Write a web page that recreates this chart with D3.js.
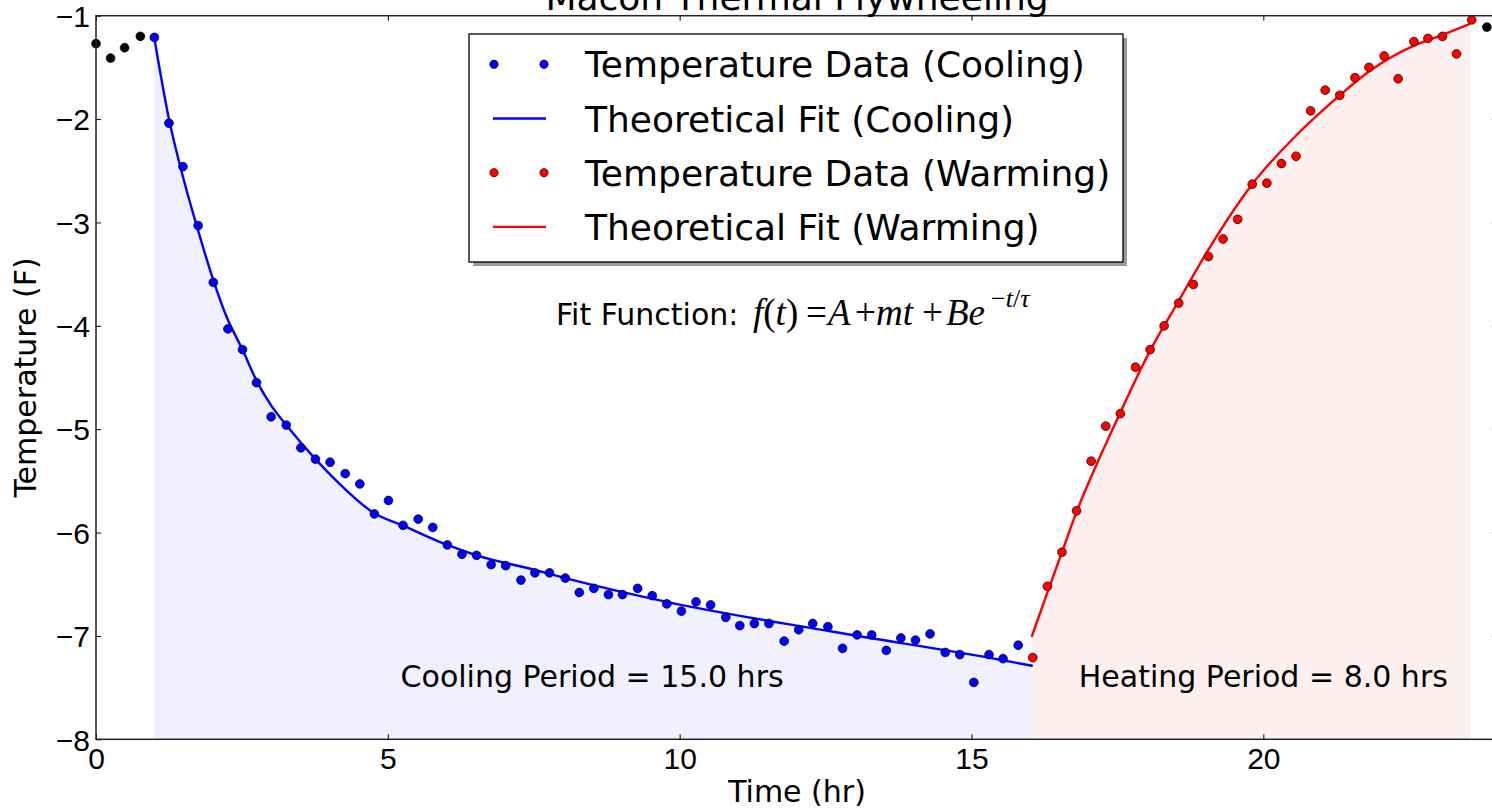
<!DOCTYPE html>
<html>
<head>
<meta charset="utf-8">
<title>Macon Thermal Flywheeling</title>
<script src="https://d3js.org/d3.v7.min.js"></script>
<style>
  body {
    margin: 0;
    background: #fff;
  }

  svg {
    display: block;
    font-family: "DejaVu Sans", sans-serif;
  }

  .axis .domain {
    display: none;
  }

  .axis .tick line {
    stroke: #000;
    stroke-width: 1;
  }
</style>
</head>

<body>
<div id="graphArea"></div>
<script>
  // readings taken off the plot (time in hr, temperature in F)
  var idleTime = [0.00, 0.25, 0.49, 0.76, 23.83];
  var idleTemp = [-1.27, -1.41, -1.31, -1.20, -1.11];

  var coolTime = [1.00, 1.25, 1.49, 1.75, 2.01, 2.26, 2.51, 2.75, 3.00, 3.26,
    3.51, 3.76, 4.01, 4.27, 4.52, 4.77, 5.01, 5.26, 5.52, 5.77,
    6.02, 6.27, 6.52, 6.77, 7.02, 7.28, 7.52, 7.77, 8.04, 8.28,
    8.53, 8.78, 9.02, 9.28, 9.53, 9.78, 10.03, 10.28, 10.53, 10.79,
    11.03, 11.28, 11.53, 11.79, 12.04, 12.28, 12.54, 12.79, 13.04, 13.29,
    13.54, 13.79, 14.04, 14.29, 14.55, 14.80, 15.04, 15.30, 15.54, 15.80];
  var coolTemp = [-1.21, -2.04, -2.46, -3.03, -3.58, -4.03, -4.23, -4.55, -4.88, -4.96,
    -5.18, -5.29, -5.32, -5.43, -5.53, -5.82, -5.69, -5.93, -5.87, -5.95,
    -6.12, -6.21, -6.22, -6.31, -6.32, -6.46, -6.39, -6.39, -6.44, -6.58,
    -6.54, -6.60, -6.60, -6.54, -6.61, -6.69, -6.76, -6.67, -6.70, -6.82,
    -6.90, -6.88, -6.88, -7.05, -6.94, -6.88, -6.91, -7.12, -6.99, -6.99,
    -7.14, -7.02, -7.04, -6.98, -7.16, -7.18, -7.45, -7.18, -7.22, -7.09];

  var warmTime = [16.05, 16.30, 16.55, 16.80, 17.05, 17.30, 17.55, 17.81, 18.06, 18.30,
    18.55, 18.80, 19.06, 19.31, 19.56, 19.81, 20.06, 20.31, 20.56, 20.81,
    21.06, 21.31, 21.57, 21.81, 22.07, 22.31, 22.58, 22.82, 23.07, 23.31, 23.57];
  var warmTemp = [-7.21, -6.52, -6.19, -5.79, -5.31, -4.97, -4.85, -4.40, -4.23, -4.00,
    -3.78, -3.60, -3.33, -3.16, -2.97, -2.63, -2.62, -2.43, -2.36, -1.92,
    -1.72, -1.77, -1.60, -1.50, -1.39, -1.61, -1.25, -1.22, -1.20, -1.37, -1.04];

  // points
  var coolFitTime = [1.00, 1.25, 1.50, 1.75, 2.00, 2.25, 2.51, 2.75, 3.00, 3.26,
    3.76, 4.12, 4.76, 5.25, 6.02, 6.52, 7.44, 8.04, 9.78, 12.63, 15.49, 16.05];
  var coolFitTemp = [-1.22, -2.00, -2.58, -3.08, -3.54, -3.93, -4.23, -4.53, -4.77, -4.96,
    -5.29, -5.50, -5.81, -5.93, -6.12, -6.22, -6.35, -6.44, -6.67, -6.96, -7.23, -7.29];

  var warmFitTime = [16.03, 16.30, 16.55, 16.80, 17.20, 17.54, 18.06, 18.55, 19.03, 19.81,
    20.63, 21.31, 21.81, 22.58, 23.07, 23.54];
  var warmFitTemp = [-7.01, -6.58, -6.19, -5.80, -5.27, -4.85, -4.24, -3.76, -3.29, -2.63,
    -2.12, -1.77, -1.54, -1.29, -1.185, -1.08];

  var xTicks = [0, 5, 10, 15, 20];
  var yTicks = [-8, -7, -6, -5, -4, -3, -2, -1];

  var legendLabels = ["Temperature Data (Cooling)", "Theoretical Fit (Cooling)",
    "Temperature Data (Warming)", "Theoretical Fit (Warming)"];

  function zipPts(ts, vs) {
    return ts.map(function(t, i) {
      return { t: t, v: vs[i] };
    });
  }

  var W = 1492,
    H = 811;
  var margin = { top: 15.7, left: 96 };
  var width = 1400.8,
    height = 723.6;

  var svg = d3.select("#graphArea").append("svg")
    .attr("width", W)
    .attr("height", H);

  var g = svg.append("g")
    .attr("transform", "translate(" + margin.left + "," + margin.top + ")");

  var x = d3.scaleLinear().domain([0, 24]).range([0, width]);
  var y = d3.scaleLinear().domain([-8, -1]).range([height, 0]);

  var area = d3.area()
    .x(function(d) { return x(d.t); })
    .y0(y(-8))
    .y1(function(d) { return y(d.v); })
    .curve(d3.curveMonotoneX);

  var line = d3.line()
    .x(function(d) { return x(d.t); })
    .y(function(d) { return y(d.v); })
    .curve(d3.curveMonotoneX);

  var coolFit = zipPts(coolFitTime, coolFitTemp);
  var warmFit = zipPts(warmFitTime, warmFitTemp);

  // shaded periods under the fits
  g.append("path").datum(coolFit)
    .attr("d", area)
    .attr("fill", "rgb(240,240,255)");
  g.append("path").datum(warmFit)
    .attr("d", area)
    .attr("fill", "rgb(255,240,240)");

  // axes, ticks pointing inwards on all four sides
  var intFmt = d3.format("d");
  g.append("g")
    .attr("class", "x axis")
    .attr("transform", "translate(0," + height + ")")
    .call(d3.axisBottom(x).tickValues(xTicks).tickFormat(intFmt).tickSizeInner(-5).tickSizeOuter(0).tickPadding(8))
    .call(function(a) {
      a.selectAll("text").style("font-size", "30px").attr("fill", "#000");
    });
  g.append("g")
    .attr("class", "x axis")
    .call(d3.axisTop(x).tickValues(xTicks).tickSizeInner(-5).tickSizeOuter(0).tickFormat(""));
  g.append("g")
    .attr("class", "y axis")
    .call(d3.axisLeft(y).tickValues(yTicks).tickFormat(intFmt).tickSizeInner(-5).tickSizeOuter(0).tickPadding(6))
    .call(function(a) {
      a.selectAll("text").style("font-size", "30px").attr("dy", "0.36em").attr("fill", "#000");
    });
  g.append("g")
    .attr("class", "y axis")
    .attr("transform", "translate(" + width + ",0)")
    .call(d3.axisRight(y).tickValues(yTicks).tickSizeInner(-5).tickSizeOuter(0).tickFormat(""));

  // fit curves
  g.append("path").datum(coolFit)
    .attr("d", line)
    .attr("fill", "none")
    .attr("stroke", "#0000ff")
    .attr("stroke-width", 2.4);
  g.append("path").datum(warmFit)
    .attr("d", line)
    .attr("fill", "none")
    .attr("stroke", "#ff0000")
    .attr("stroke-width", 2.4);

  // data points
  function drawDots(ts, vs, color) {
    g.append("g").selectAll("circle")
      .data(zipPts(ts, vs))
      .enter()
      .append("circle")
      .attr("cx", function(d) { return x(d.t); })
      .attr("cy", function(d) { return y(d.v); })
      .attr("r", 4.4)
      .attr("fill", color)
      .attr("stroke", "#000")
      .attr("stroke-width", 0.7);
  }
  drawDots(idleTime, idleTemp, "#000");
  drawDots(coolTime, coolTemp, "#0000ff");
  drawDots(warmTime, warmTemp, "#ff0000");

  // frame
  g.append("rect")
    .attr("width", width)
    .attr("height", height)
    .attr("fill", "none")
    .attr("stroke", "#222")
    .attr("stroke-width", 1.5);

  // period annotations
  g.append("text")
    .attr("x", x(8.5))
    .attr("y", y(-7.49))
    .attr("text-anchor", "middle")
    .style("font-size", "30px")
    .text("Cooling Period = 15.0 hrs");
  g.append("text")
    .attr("x", x(20))
    .attr("y", y(-7.49))
    .attr("text-anchor", "middle")
    .style("font-size", "30px")
    .text("Heating Period = 8.0 hrs");

  // fit function label
  svg.append("text")
    .attr("x", 556)
    .attr("y", 325)
    .style("font-size", "30px")
    .text("Fit Function:");

  var math = svg.append("text")
    .attr("y", 325)
    .style("font-family", "'Liberation Serif', 'DejaVu Serif', serif")
    .style("font-size", "37px");
  var pieces = [
    { s: "f", it: true, x: 753 }, { s: "(", it: false }, { s: "t", it: true }, { s: ")", it: false },
    { s: "=", it: false, x: 806 }, { s: "A", it: true, x: 828 }, { s: "+", it: false, x: 855 },
    { s: "mt", it: true, x: 876 }, { s: "+", it: false, x: 922 }, { s: "Be", it: true, x: 946 }
  ];
  pieces.forEach(function(p) {
    var ts = math.append("tspan").text(p.s)
      .style("font-style", p.it ? "italic" : "normal");
    if (p.x !== undefined) ts.attr("x", p.x);
  });
  var sup = svg.append("text")
    .attr("x", 991)
    .attr("y", 307)
    .style("font-family", "'Liberation Serif', 'DejaVu Serif', serif")
    .style("font-size", "26px");
  sup.append("tspan").text("\u2212");
  sup.append("tspan").text("t").style("font-style", "italic");
  sup.append("tspan").text("/");
  sup.append("tspan").text("\u03c4").style("font-style", "italic");

  // title, its upper part falls outside the picture as in the source
  svg.append("text")
    .attr("x", 797)
    .attr("y", 10)
    .attr("text-anchor", "middle")
    .style("font-size", "36px")
    .text("Macon Thermal Flywheeling");

  // axis labels
  svg.append("text")
    .attr("x", 797)
    .attr("y", 802)
    .attr("text-anchor", "middle")
    .style("font-size", "30px")
    .text("Time (hr)");
  svg.append("text")
    .attr("transform", "translate(36," + (margin.top + height / 2) + ") rotate(-90)")
    .attr("text-anchor", "middle")
    .style("font-size", "30px")
    .text("Temperature (F)");

  // legend with drop shadow
  var lg = svg.append("g").attr("transform", "translate(469,34)");
  lg.append("rect")
    .attr("x", 4).attr("y", 4)
    .attr("width", 654).attr("height", 228)
    .attr("fill", "#9a9a9a");
  lg.append("rect")
    .attr("width", 654).attr("height", 228)
    .attr("fill", "#fff")
    .attr("stroke", "#000")
    .attr("stroke-width", 1.3);

  var legendColors = ["#0000ff", "#0000ff", "#ff0000", "#ff0000"];
  legendLabels.forEach(function(label, i) {
    var cy = 30.3 + i * 54.2;
    var row = lg.append("g");
    if (i % 2 === 0) {
      [25, 75].forEach(function(cx) {
        row.append("circle")
          .attr("cx", cx).attr("cy", cy).attr("r", 4.2)
          .attr("fill", legendColors[i])
          .attr("stroke", "#000").attr("stroke-width", 0.6);
      });
    } else {
      row.append("line")
        .attr("x1", 24).attr("x2", 77)
        .attr("y1", cy).attr("y2", cy)
        .attr("stroke", legendColors[i])
        .attr("stroke-width", 2.4);
    }
    row.append("text")
      .attr("x", 116)
      .attr("y", cy + 13)
      .style("font-size", "36px")
      .text(label);
  });
</script>
</body>
</html>
